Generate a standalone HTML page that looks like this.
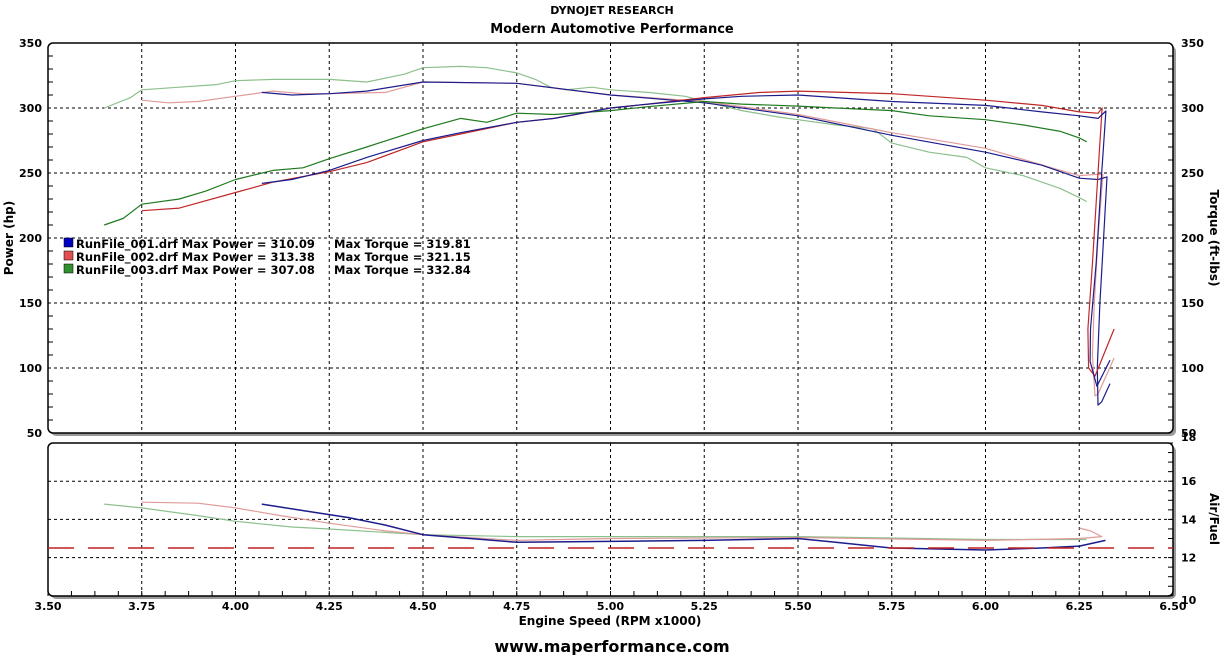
<!DOCTYPE html>
<html><head><meta charset="utf-8"><style>
html,body{margin:0;padding:0;background:#fff;width:1223px;height:655px;overflow:hidden}
svg text{font-family:"DejaVu Sans","Liberation Sans",sans-serif;font-weight:bold;fill:#000}
</style></head><body>
<svg id="s" width="1223" height="655" viewBox="0 0 1223 655" xmlns="http://www.w3.org/2000/svg">
<text x="612" y="14" font-size="11" text-anchor="middle">DYNOJET RESEARCH</text>
<text x="612" y="33" font-size="13" text-anchor="middle">Modern Automotive Performance</text>
<rect x="51" y="46" width="1125" height="390" rx="5" fill="#9a9a9a"/>
<rect x="48" y="43" width="1125" height="390" rx="5" fill="#fff" stroke="#000" stroke-width="1.5"/>
<rect x="51" y="446" width="1125" height="153" rx="5" fill="#9a9a9a"/>
<rect x="48" y="443" width="1125" height="153" rx="5" fill="#fff" stroke="#000" stroke-width="1.5"/>
<g id="grid" stroke="#000" stroke-width="1" stroke-dasharray="3,3" fill="none"></g>
<g id="ticks" stroke="#000" stroke-width="1"></g>
<g id="lbl" font-size="11"></g>
<g id="series" fill="none" stroke-width="1.2" stroke-linejoin="round"></g>
<line x1="48" y1="548" x2="1173" y2="548" stroke="#c02020" stroke-width="1.5" stroke-dasharray="26,14"/>
<text transform="translate(13,238) rotate(-90)" font-size="12" text-anchor="middle">Power (hp)</text>
<text transform="translate(1210,238) rotate(90)" font-size="12" text-anchor="middle">Torque (ft-lbs)</text>
<text transform="translate(1210,519) rotate(90)" font-size="12" text-anchor="middle">Air/Fuel</text>
<text x="610" y="625" font-size="12" text-anchor="middle">Engine Speed (RPM x1000)</text>
<text x="612" y="652" font-size="16" text-anchor="middle">www.maperformance.com</text>
<g font-size="11.5">
<rect x="64" y="238" width="9" height="9" fill="#0000c0" stroke="#000" stroke-width="0.5"/>
<rect x="64" y="251" width="9" height="9" fill="#e05050" stroke="#000" stroke-width="0.5"/>
<rect x="64" y="264" width="9" height="9" fill="#309030" stroke="#000" stroke-width="0.5"/>
<text x="76" y="248">RunFile_001.drf Max Power = 310.09</text>
<text x="76" y="261">RunFile_002.drf Max Power = 313.38</text>
<text x="76" y="274">RunFile_003.drf Max Power = 307.08</text>
<text x="334" y="248">Max Torque = 319.81</text>
<text x="334" y="261">Max Torque = 321.15</text>
<text x="334" y="274">Max Torque = 332.84</text>
</g>
</svg>
<script>
var NS="http://www.w3.org/2000/svg";
function X(r){return 48+(r-3.5)*375;}
function Y(v){return 43+(350-v)*1.3;}
function A(a){return 443+(18-a)*19.1;}
function el(p,t,at,txt){var e=document.createElementNS(NS,t);for(var k in at)e.setAttribute(k,at[k]);if(txt)e.textContent=txt;document.getElementById(p).appendChild(e);}
for(var r=3.75;r<6.3;r+=0.25){el('grid','line',{x1:X(r),y1:43,x2:X(r),y2:433});el('grid','line',{x1:X(r),y1:443,x2:X(r),y2:596});}
[300,250,200,150,100].forEach(function(v){el('grid','line',{x1:48,y1:Y(v),x2:1173,y2:Y(v)});});
[16,14,12].forEach(function(a){el('grid','line',{x1:48,y1:A(a),x2:1173,y2:A(a)});});
for(var v=50;v<=350;v+=10){var y=Y(v),w=(v%50==0)?0:5;if(w){el('ticks','line',{x1:48,y1:y,x2:48+w,y2:y});el('ticks','line',{x1:1173,y1:y,x2:1168,y2:y});}}
for(var a=10;a<=18;a+=0.5){var y=A(a);el('ticks','line',{x1:1173,y1:y,x2:1168,y2:y});}
for(var r=3.5;r<=6.5;r+=0.0625){el('ticks','line',{x1:X(r),y1:596,x2:X(r),y2:591});}
for(var v=50;v<=350;v+=50){el('lbl','text',{x:42,y:Y(v)+4,'text-anchor':'end'},String(v));el('lbl','text',{x:1181,y:Y(v)+4},String(v));}
[[18,-2],[16,4],[14,4],[12,4],[10,8]].forEach(function(p){el('lbl','text',{x:1181,y:A(p[0])+p[1]},String(p[0]));});
for(var r=3.5;r<=6.51;r+=0.25){el('lbl','text',{x:X(r),y:610,'text-anchor':'middle'},r.toFixed(2));}
function line(d,c,f,w){f=f||Y;var pts=d.map(function(p){return X(p[0]).toFixed(1)+','+(f(p[1])).toFixed(1)}).join(' ');el('series','polyline',{points:pts,stroke:c,'stroke-width':w||1.2});}
var gT=[[3.65,300],[3.72,308],[3.75,314],[3.85,316],[3.95,318],[4,321],[4.1,322],[4.25,322],[4.35,320],[4.45,326],[4.5,331],[4.6,332],[4.67,331],[4.75,327],[4.8,322],[4.84,316],[4.88,314],[4.95,316],[5,314],[5.1,312],[5.2,309],[5.25,305],[5.35,298],[5.45,293],[5.5,291],[5.6,287],[5.7,284],[5.75,273],[5.85,266],[5.95,262],[6,254],[6.1,248],[6.2,238],[6.25,231],[6.27,228]];
var rT=[[3.75,306],[3.82,304],[3.9,305],[4,309],[4.1,313],[4.18,311],[4.25,311],[4.4,312],[4.5,320],[4.75,319],[5,310],[5.25,305],[5.5,295],[5.75,281],[6,269],[6.2,252],[6.25,248],[6.3,249],[6.313,248.5],[6.3,200],[6.29,150],[6.285,110],[6.292,78.5],[6.3,80],[6.343,107.7]];
var bT=[[4.07,312],[4.15,310],[4.25,311],[4.35,313],[4.5,320],[4.75,319],[5,310],[5.25,304],[5.5,294],[5.75,279],[6,266],[6.15,256],[6.25,246],[6.3,245],[6.324,247],[6.315,200],[6.305,150],[6.298,100],[6.3,71.5],[6.31,74],[6.332,88]];
var gP=[[3.65,210],[3.7,215],[3.75,226],[3.85,230],[3.92,236],[4,245],[4.1,252],[4.18,254],[4.25,261],[4.35,270],[4.5,284],[4.6,292],[4.67,289],[4.75,296],[4.85,295],[5,298],[5.1,301],[5.25,305],[5.35,303],[5.5,301.5],[5.6,300],[5.75,298],[5.85,294],[6,291],[6.1,287],[6.2,282],[6.25,277],[6.27,274]];
var rP=[[3.75,221],[3.85,223],[4,235],[4.1,243],[4.25,251],[4.35,258],[4.5,274],[4.6,280],[4.75,289],[4.85,292],[5,300],[5.1,303],[5.25,308],[5.4,312],[5.5,313],[5.75,311],[6,306],[6.15,302],[6.25,297],[6.3,296],[6.311,300],[6.3,250],[6.285,180],[6.273,130],[6.275,100],[6.292,93.8],[6.343,130]];
var bP=[[4.07,242],[4.15,245],[4.25,252],[4.35,262],[4.5,275],[4.6,281],[4.75,289],[4.85,292],[5,300],[5.1,303],[5.25,307],[5.35,309],[5.5,310],[5.75,305],[6,302],[6.15,297],[6.25,294],[6.3,292],[6.321,297.7],[6.31,250],[6.295,180],[6.28,130],[6.279,105],[6.297,86],[6.332,106]];
line(gT,'#8cc08c');line(rT,'#e09a9a');line(bT,'#1c1c8c');
line(gP,'#1f7a1f');line(rP,'#c02828');line(bP,'#1c1c8c');
var gA=[[3.65,14.8],[3.75,14.6],[3.9,14.2],[4,13.9],[4.15,13.6],[4.25,13.5],[4.5,13.2],[4.75,13.1],[5,13.1],[5.5,13.1],[6,12.95],[6.27,12.95]];
var rA=[[3.75,14.9],[3.9,14.85],[4,14.6],[4.12,14.2],[4.25,13.8],[4.4,13.4],[4.5,13.2],[4.75,12.9],[5,13.0],[5.5,13.05],[6,12.9],[6.25,13.0],[6.31,13.1],[6.28,13.4],[6.25,13.55]];
var bA=[[4.07,14.8],[4.2,14.4],[4.3,14.1],[4.4,13.7],[4.5,13.2],[4.75,12.8],[5,12.85],[5.25,12.9],[5.5,13.0],[5.6,12.8],[5.75,12.5],[6,12.4],[6.15,12.5],[6.25,12.6],[6.32,12.9]];
line(gA,'#8cc08c',A);line(rA,'#e09a9a',A);line(bA,'#1c1c8c',A,1.5);
</script>
</body></html>
